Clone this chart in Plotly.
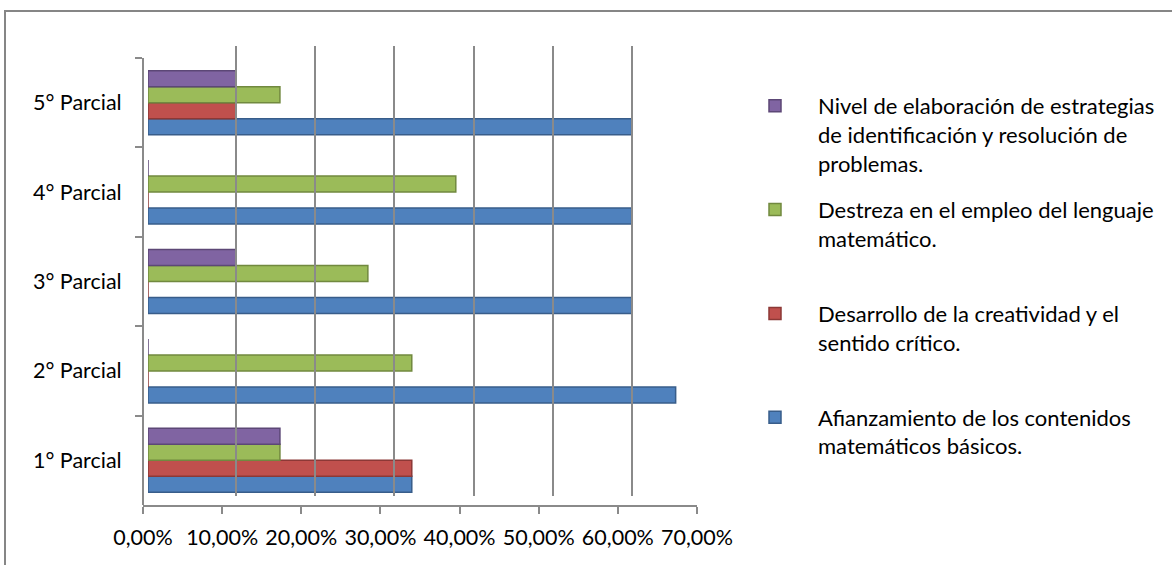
import plotly.graph_objects as go

W, H = 1172, 565

categories = ["1° Parcial", "2° Parcial", "3° Parcial", "4° Parcial", "5° Parcial"]
afianzamiento = [0.3333, 0.6667, 0.6111, 0.6111, 0.6111]
desarrollo = [0.3333, 0.0, 0.0, 0.0, 0.1111]
destreza = [0.1667, 0.3333, 0.2778, 0.3889, 0.1667]
nivel = [0.1667, 0.0, 0.1111, 0.0, 0.1111]

series_names = [
    "Afianzamiento de los contenidos<br>matemáticos básicos.<br> ",
    "Desarrollo de la creatividad y el<br>sentido crítico.<br> ",
    "Destreza en el empleo del lenguaje<br>matemático.<br> ",
    "Nivel de elaboración de estrategias<br>de identificación y resolución de<br>problemas.",
]
series_values = [afianzamiento, desarrollo, destreza, nivel]
fill_colors = ["#4F81BD", "#C0504D", "#9BBB59", "#8064A2"]
edge_colors = ["#385D8A", "#8C3836", "#71893F", "#5C4776"]
legend_ranks = [4, 3, 2, 1]

x_ticks = [0, 0.1, 0.2, 0.3, 0.4, 0.5, 0.6, 0.7]

FONT = "Lato"
GRID = "#8a8a8a"


def px_x(p):
    return p / W


def px_y(p):
    return 1 - p / H


fig = go.Figure()

for name, vals, fc, ec, rk in zip(series_names, series_values, fill_colors,
                                  edge_colors, legend_ranks):
    fig.add_trace(go.Bar(
        y=categories, x=vals, name=name, orientation="h",
        marker=dict(color=fc, line=dict(color=ec, width=1.5)),
        xaxis="x", yaxis="y", legendgroup=name, legendrank=rk,
    ))

fig.update_layout(
    width=W, height=H,
    margin=dict(l=0, r=0, t=0, b=0, pad=0, autoexpand=False),
    paper_bgcolor="white", plot_bgcolor="rgba(0,0,0,0)",
    separators=",.",
    barmode="group", bargap=0.284, bargroupgap=0,
    font=dict(family=FONT, size=21.5, color="#000000"),
    # bar subplot
    xaxis=dict(domain=[px_x(148), px_x(702)], range=[0, 0.7], showgrid=False,
               zeroline=False, showline=False, showticklabels=False, ticks=""),
    yaxis=dict(domain=[px_y(505), px_y(58)], type="category",
               categoryorder="array", categoryarray=categories,
               range=[-0.5, 4.5], anchor="free", position=px_x(143),
               showline=True, linecolor=GRID, linewidth=2,
               ticks="outside", tickson="boundaries", ticklen=7,
               tickcolor=GRID, tickwidth=2, showgrid=False, zeroline=False,
               ticklabelstandoff=16,
               tickfont=dict(family=FONT, size=21.5, color="#000000")),
    # back wall gridlines
    xaxis2=dict(domain=[px_x(157), px_x(711)], range=[-0.0005, 0.7005], anchor="y2",
                showgrid=True, gridcolor=GRID, gridwidth=2, tickvals=x_ticks,
                showticklabels=False, ticks="", zeroline=False, showline=False),
    yaxis2=dict(domain=[px_y(496), px_y(46)], range=[0, 1], anchor="x2",
                visible=False),
    # front axis with labels
    xaxis3=dict(domain=[px_x(143), px_x(697)], range=[0, 0.7], anchor="y3",
                tickvals=x_ticks, tickformat=".2%", showgrid=False,
                showline=True, linecolor=GRID, linewidth=2,
                ticks="outside", ticklen=7, tickcolor=GRID, tickwidth=2,
                zeroline=False, ticklabelstandoff=5,
                tickfont=dict(family=FONT, size=21.5, color="#000000")),
    yaxis3=dict(domain=[px_y(505), px_y(504)], range=[0, 1], anchor="x3",
                visible=False),
    legend=dict(x=px_x(732), y=px_y(85), xanchor="left", yanchor="top",
                traceorder="grouped", valign="top", tracegroupgap=15,
                itemwidth=76,
                font=dict(family=FONT, size=22, color="#000000"),
                bgcolor="rgba(0,0,0,0)"),
    shapes=[dict(type="rect", xref="paper", yref="paper",
                 x0=px_x(5), x1=1.05, y0=-0.05, y1=px_y(11),
                 line=dict(color="#868686", width=2), layer="below")],
)

# empty traces so the decorative subplots are created
fig.add_trace(go.Scatter(x=[], y=[], xaxis="x2", yaxis="y2", showlegend=False))
fig.add_trace(go.Scatter(x=[], y=[], xaxis="x3", yaxis="y3", showlegend=False))

fig.write_html("out.html")
